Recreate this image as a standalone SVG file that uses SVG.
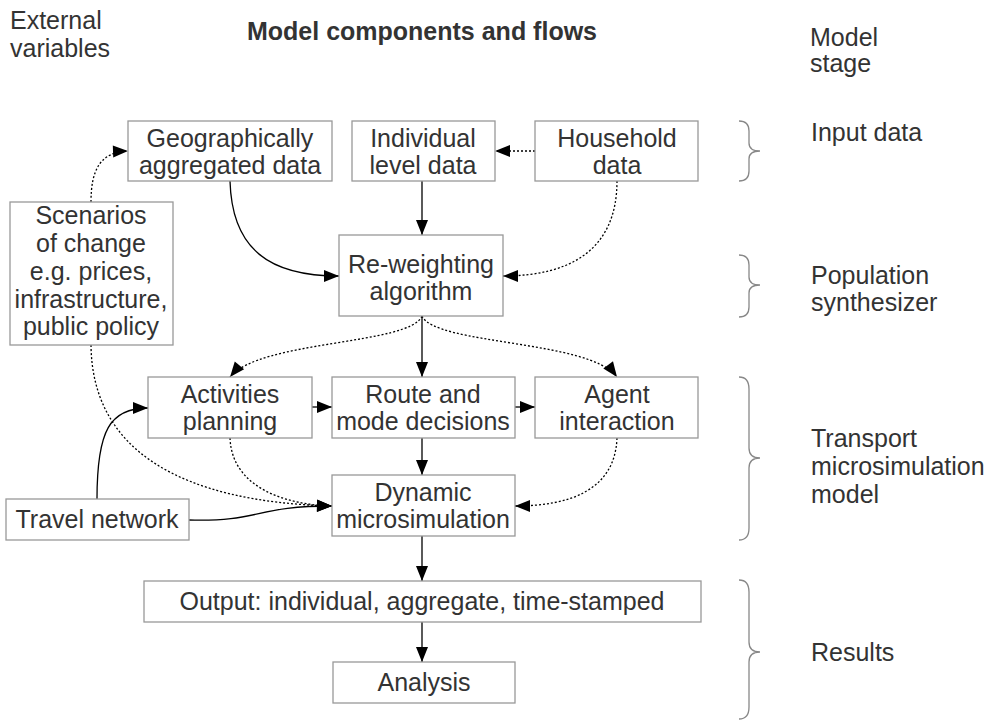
<svg xmlns="http://www.w3.org/2000/svg" width="994" height="722" viewBox="0 0 994 722">
<style>
  text { font-family: "Liberation Sans", Arial, sans-serif; font-size: 25px; fill: #333333; }
  .c { text-anchor: middle; }
  .title { font-weight: bold; }
  .box { fill: #ffffff; stroke: #999999; stroke-width: 1.3; }
  .solid { fill: none; stroke: #000000; stroke-width: 1.3; }
  .dot { fill: none; stroke: #000000; stroke-width: 1.3; stroke-dasharray: 2 2; }
  .brace { fill: none; stroke: #888888; stroke-width: 1.3; }
</style>
<defs>
  <marker id="arr" markerUnits="userSpaceOnUse" markerWidth="18" markerHeight="14" refX="16" refY="7" orient="auto">
    <path d="M1,1 L16,7 L1,13 Z" fill="#000000"/>
  </marker>
</defs>

<g id="headers">
  <text x="10" y="29">External</text>
  <text x="10" y="57">variables</text>
  <text class="title c" x="422" y="40">Model components and flows</text>
  <text x="810" y="46">Model</text>
  <text x="810" y="72">stage</text>
</g>

<g id="connectors">
  <path class="solid" d="M230,181 C232,250 270,276 339,276" marker-end="url(#arr)"/>
  <path class="dot" d="M617,181 C617,250 570,276 503,276" marker-end="url(#arr)"/>
  <path class="dot" d="M535,151 L495,151" marker-end="url(#arr)"/>
  <path class="solid" d="M422,181 L422,235" marker-end="url(#arr)"/>
  <path class="dot" d="M91,202 C91,170 100,152 128,151" marker-end="url(#arr)"/>
  <path class="dot" d="M91,345 C92,450 180,502 332,506" marker-end="url(#arr)"/>
  <path class="dot" d="M422,316 C410,345 260,340 230,377" marker-end="url(#arr)"/>
  <path class="dot" d="M422,316 C435,345 590,340 617,377" marker-end="url(#arr)"/>
  <path class="solid" d="M422,316 L422,377" marker-end="url(#arr)"/>
  <path class="solid" d="M312,407 L332,407" marker-end="url(#arr)"/>
  <path class="solid" d="M515,407 L535,407" marker-end="url(#arr)"/>
  <path class="solid" d="M422,438 L422,475" marker-end="url(#arr)"/>
  <path class="dot" d="M230,438 C232,490 290,505 332,506" marker-end="url(#arr)"/>
  <path class="dot" d="M617,438 C615,490 570,506 515,506" marker-end="url(#arr)"/>
  <path class="solid" d="M97,499 C97,430 110,408 148,408" marker-end="url(#arr)"/>
  <path class="solid" d="M189,520 C260,522 255,506 332,506" marker-end="url(#arr)"/>
  <path class="solid" d="M422,536 L422,581" marker-end="url(#arr)"/>
  <path class="solid" d="M422,622 L422,662" marker-end="url(#arr)"/>
</g>

<g id="geo">
  <rect class="box" x="128" y="121" width="204" height="60"/>
  <text class="c" x="230" y="147">Geographically</text>
  <text class="c" x="230" y="174">aggregated data</text>
</g>
<g id="individual">
  <rect class="box" x="352" y="121" width="143" height="60"/>
  <text class="c" x="423" y="147">Individual</text>
  <text class="c" x="423" y="174">level data</text>
</g>
<g id="household">
  <rect class="box" x="535" y="121" width="163" height="60"/>
  <text class="c" x="617" y="147">Household</text>
  <text class="c" x="617" y="174">data</text>
</g>
<g id="scenarios">
  <rect class="box" x="10" y="202" width="163" height="143"/>
  <text class="c" x="91" y="224">Scenarios</text>
  <text class="c" x="91" y="252">of change</text>
  <text class="c" x="91" y="280">e.g. prices,</text>
  <text class="c" x="91" y="308">infrastructure,</text>
  <text class="c" x="91" y="335">public policy</text>
</g>
<g id="reweighting">
  <rect class="box" x="339" y="235" width="164" height="81"/>
  <text class="c" x="421" y="273">Re-weighting</text>
  <text class="c" x="421" y="300">algorithm</text>
</g>
<g id="activities">
  <rect class="box" x="148" y="377" width="164" height="61"/>
  <text class="c" x="230" y="403">Activities</text>
  <text class="c" x="230" y="430">planning</text>
</g>
<g id="route">
  <rect class="box" x="332" y="377" width="183" height="61"/>
  <text class="c" x="423" y="403">Route and</text>
  <text class="c" x="423" y="430">mode decisions</text>
</g>
<g id="agent">
  <rect class="box" x="535" y="377" width="163" height="61"/>
  <text class="c" x="617" y="403">Agent</text>
  <text class="c" x="617" y="430">interaction</text>
</g>
<g id="dynamic">
  <rect class="box" x="332" y="475" width="183" height="61"/>
  <text class="c" x="423" y="501">Dynamic</text>
  <text class="c" x="423" y="528">microsimulation</text>
</g>
<g id="travel">
  <rect class="box" x="6" y="499" width="183" height="41"/>
  <text class="c" x="97" y="528">Travel network</text>
</g>
<g id="output">
  <rect class="box" x="144" y="581" width="557" height="41"/>
  <text class="c" x="422" y="610">Output: individual, aggregate, time-stamped</text>
</g>
<g id="analysis">
  <rect class="box" x="333" y="662" width="182" height="41"/>
  <text class="c" x="424" y="691">Analysis</text>
</g>

<g id="stages">
  <path class="brace" d="M739,121 Q749,121 749,131 L749,143 Q749,151 760,151 Q749,151 749,159 L749,171 Q749,181 739,181"/>
  <path class="brace" d="M739,255 Q749,255 749,265 L749,277 Q749,285 760,285 Q749,285 749,293 L749,307 Q749,317 739,317"/>
  <path class="brace" d="M739,377 Q749,377 749,389 L749,448 Q749,458 760,458 Q749,458 749,468 L749,528 Q749,540 739,540"/>
  <path class="brace" d="M739,580 Q749,580 749,592 L749,642 Q749,652 760,652 Q749,652 749,662 L749,707 Q749,719 739,719"/>
  <text x="811" y="141">Input data</text>
  <text x="811" y="284">Population</text>
  <text x="811" y="311">synthesizer</text>
  <text x="811" y="447">Transport</text>
  <text x="811" y="475">microsimulation</text>
  <text x="811" y="503">model</text>
  <text x="811" y="661">Results</text>
</g>
</svg>
